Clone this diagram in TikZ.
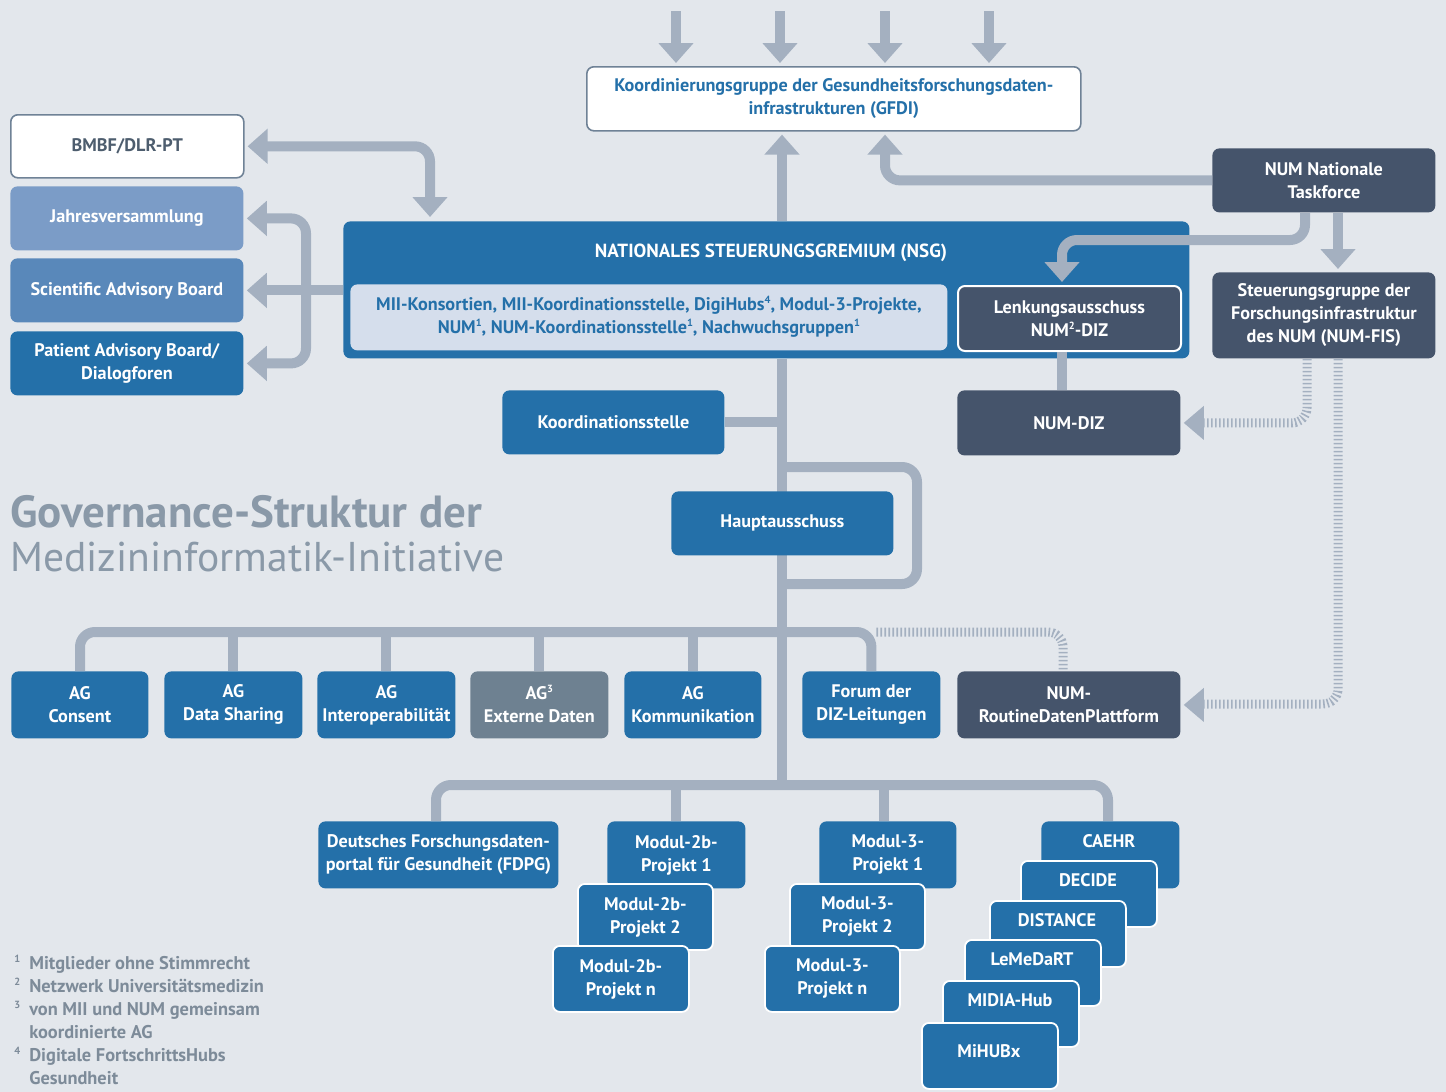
\documentclass[tikz,border=0pt]{standalone}
\usepackage{fontspec}
\setmainfont{PT Sans}
\newfontfamily\din[BoldFont={PT Sans Bold}]{PT Sans}
\usetikzlibrary{arrows.meta,calc}
\definecolor{bg}{HTML}{E3E7EC}
\definecolor{conncol}{HTML}{A4B0C0}
\definecolor{mblue}{HTML}{2470A9}
\definecolor{dslate}{HTML}{45546B}
\definecolor{jvblue}{HTML}{7B9CC7}
\definecolor{sabblue}{HTML}{5988BA}
\definecolor{aggray}{HTML}{6E8191}
\definecolor{panel}{HTML}{D5DEEC}
\definecolor{bordgray}{HTML}{6F8296}
\definecolor{bmbftext}{HTML}{4D5D6E}
\definecolor{titlegray}{HTML}{8A99A8}
\definecolor{fngray}{HTML}{7D8B99}
\newcommand\bx[7]{\node[#2, anchor=north west, minimum width={(#5-#3)*0.5pt}, minimum height={(#6-#4)*0.5pt}] (#1) at (#3,#4) {#7};}
\newcommand\supnum[1]{\raisebox{0.38em}[0pt][0pt]{\fontsize{5.2}{6}\selectfont #1}}
\begin{document}
\begin{tikzpicture}[x=0.5pt,y=-0.5pt,
  box/.style={rounded corners=3.5pt, inner sep=0pt, align=center, text=white,
    font=\din\bfseries\fontsize{9.1}{11.5}\selectfont},
  bluebox/.style={box, fill=mblue},
  darkbox/.style={box, fill=dslate},
  stackbox/.style={box, fill=mblue, draw=white, line width=0.9pt},
  whitebox/.style={box, fill=white, draw=bordgray, line width=0.8pt},
  lbl/.style={inner sep=0pt, align=center, text=white, font=\din\bfseries\fontsize{9.1}{11.5}\selectfont},
  conn/.style={draw=conncol, line width=5pt},
  tip/.style={-{Triangle[width=17pt,length=10pt]}},
  dtip/.style={{Triangle[width=17pt,length=10pt]}-{Triangle[width=17pt,length=10pt]}},
  dotconn/.style={draw=conncol, line width=4.5pt, dash pattern=on 0.8pt off 1.2pt},
  rc/.style={rounded corners=7.5pt}
]
\fill[bg] (0,0) rectangle (1446,1092);

% helper coordinates
\coordinate (sp) at (782,0);
\coordinate (t1) at (676,11);
\coordinate (t2) at (780,11);
\coordinate (t3) at (885,11);
\coordinate (t4) at (989,11);
\coordinate (xb) at (430,0);
\coordinate (xl) at (306,0);
\coordinate (xr1) at (1307,0);
\coordinate (xr2) at (1338,0);
\coordinate (xtf) at (1305,0);
\coordinate (xlk) at (1062,0);
\coordinate (ytf) at (0,240);
\coordinate (yloop1) at (0,467);
\coordinate (yloop2) at (0,584);
\coordinate (xloop) at (917,0);
\coordinate (ybus) at (0,632);
\coordinate (ybus2) at (0,785);
\coordinate (xnd) at (1063,0);

% ---------- nodes ----------
\bx{gfdi}{whitebox, text=mblue}{586}{66}{1080}{130}{Koordinierungsgruppe der Gesundheitsforschungsdaten-\\infrastrukturen (GFDI)}
\bx{bmbf}{whitebox, text=bmbftext}{10}{114}{243}{177}{BMBF/DLR-PT}
\bx{jv}{box, fill=jvblue}{10}{186}{243}{250}{Jahresversammlung}
\bx{sab}{box, fill=sabblue}{10}{258}{243}{322}{Scientific Advisory Board}
\bx{pab}{bluebox}{10}{331}{243}{395}{Patient Advisory Board/\\Dialogforen}

\bx{nsg}{bluebox}{343}{221}{1189}{358}{}
\node[lbl, font=\din\bfseries\fontsize{9.5}{11.5}\selectfont] (nsgT) at (771,253) {NATIONALES STEUERUNGSGREMIUM (NSG)};
\bx{pnl}{box, fill=panel, text=mblue}{350}{284}{947}{350}{MII-Konsortien, MII-Koordinationsstelle, DigiHubs\supnum{4}, Modul-3-Projekte,\\NUM\supnum{1}, NUM-Koordinationsstelle\supnum{1}, Nachwuchsgruppen\supnum{1}}
\bx{lenk}{darkbox, draw=white, line width=1pt}{957}{285}{1180}{350}{Lenkungsausschuss\\NUM\supnum{2}-DIZ}

\bx{tf}{darkbox}{1212}{148}{1435}{212}{NUM Nationale\\Taskforce}
\bx{sg}{darkbox}{1212}{272}{1435}{358}{Steuerungsgruppe der\\Forschungsinfrastruktur\\des NUM (NUM-FIS)}
\bx{numdiz}{darkbox}{957}{390}{1180}{455}{NUM-DIZ}

% ---------- connectors ----------
\foreach \t in {t1,t2,t3,t4}{
  \draw[conn, tip, shorten >=1.5pt] (\t) -- (\t |- gfdi.north);
}
\draw[conn, tip, shorten >=1.5pt] (nsg.north -| sp) -- (gfdi.south -| sp);
\draw[conn, tip, rc, shorten >=1.5pt] (tf.west) -| (gfdi.south -| t3);
\draw[conn, dtip, rc, shorten <=1.5pt, shorten >=2pt] (bmbf.east) -| (nsg.north -| xb);
\draw[conn, dtip, rc, shorten <=1.5pt, shorten >=1.5pt] (jv.east) -| (xl |- sab.east) |- (pab.east);
\draw[conn, tip, shorten >=1.5pt] (nsg.west |- sab.east) -- (sab.east);
\draw[conn, tip, rc, shorten >=1.5pt] (tf.south -| xtf) |- (xlk |- ytf) -- (lenk.north -| xlk);
\draw[conn, tip, shorten >=1.5pt] (tf.south -| xr2) -- (sg.north -| xr2);
\draw[conn] (lenk.south -| xlk) -- (numdiz.north -| xlk);
\draw[dotconn, rc, shorten >=10pt] (sg.south -| xr1) |- (numdiz.east);
\fill[conncol] ($(numdiz.east)+(3,0)$) -- ++(20,-17) -- ++(0,34) -- cycle;
\draw[dotconn, rc, shorten >=10pt] (sg.south -| xr2) |- (numdiz.east |- 0,704);

% spine
\draw[conn] (nsg.south -| sp) -- (sp |- ybus2);
\bx{ks}{bluebox}{502}{390}{724}{454}{Koordinationsstelle}
\draw[conn] (ks.east) -- (ks.east -| sp);
\draw[conn, rc] (sp |- yloop1) -| (xloop |- yloop2) -- (sp |- yloop2);
\bx{ha}{bluebox}{671}{491}{893}{555}{Hauptausschuss}

% title
\node[anchor=base west, inner sep=0pt, text=titlegray, font=\din\bfseries\fontsize{22.5}{26}\selectfont] (title1) at (10,527) {Governance-Struktur der};
\node[anchor=base west, inner sep=0pt, text=titlegray, font=\din\fontsize{20.8}{26}\selectfont] (title2) at (10,571) {Medizininformatik-Initiative};

% AG row
\bx{agc}{bluebox}{11}{671}{148}{738}{AG\\Consent}
\bx{ags}{bluebox}{164}{671}{302}{738}{AG\\Data Sharing}
\bx{agi}{bluebox}{317}{671}{455}{738}{AG\\Interoperabilität}
\bx{age}{box, fill=aggray}{470}{671}{608}{738}{AG\supnum{3}\\Externe Daten}
\bx{agk}{bluebox}{624}{671}{761}{738}{AG\\Kommunikation}
\bx{fdiz}{bluebox}{802}{671}{940}{738}{Forum der\\DIZ-Leitungen}
\bx{ndp}{darkbox}{957}{671}{1180}{738}{NUM-\\RoutineDatenPlattform}
\fill[conncol] ($(ndp.east)+(3,0)$) -- ++(20,-17) -- ++(0,34) -- cycle;

\draw[conn, rc] (agc.north -| 80,0) |- (fdiz.north |- ybus) -- (fdiz.north);
\draw[dotconn, rc] ($(fdiz.north |- ybus)+(5,0)$) -| (ndp.north -| xnd);
\foreach \n in {ags,agi,age,agk}{
  \draw[conn] (\n.north) -- (\n.north |- ybus);
}

% bottom row
\bx{fdpg}{bluebox}{318}{821}{558}{888}{Deutsches Forschungsdaten-\\portal für Gesundheit (FDPG)}
\draw[conn, rc] (fdpg.north -| 436,0) |- (ybus2 -| 1108,0) -- (1108,821);
\draw[conn] (676,785) -- (676,821);
\draw[conn] (884,785) -- (884,821);

\bx{mzA}{bluebox}{607}{821}{745}{888}{Modul-2b-\\Projekt 1}
\bx{mzB}{stackbox}{577}{883}{712}{949}{Modul-2b-\\Projekt 2}
\bx{mzN}{stackbox}{552}{945}{688}{1011}{Modul-2b-\\Projekt n}
\bx{mdA}{bluebox}{819}{821}{956}{888}{Modul-3-\\Projekt 1}
\bx{mdB}{stackbox}{789}{883}{924}{949}{Modul-3-\\Projekt 2}
\bx{mdN}{stackbox}{764}{945}{899}{1011}{Modul-3-\\Projekt n}

\bx{caehr}{bluebox}{1041}{821}{1179}{888}{}
\node[lbl] (caehrT) at (1109,841) {CAEHR};
\bx{decide}{stackbox}{1020}{860}{1156}{926}{}
\node[lbl] (decideT) at (1088,880) {DECIDE};
\bx{dist}{stackbox}{989}{900}{1125}{966}{}
\node[lbl] (distT) at (1057,920) {DISTANCE};
\bx{lemed}{stackbox}{964}{939}{1100}{1005}{}
\node[lbl] (lemedT) at (1032,959) {LeMeDaRT};
\bx{midia}{stackbox}{942}{980}{1078}{1046}{}
\node[lbl] (midiaT) at (1010,1000) {MIDIA-Hub};
\bx{mihub}{stackbox}{921}{1022}{1057}{1088}{}
\node[lbl] (mihubT) at (989,1051) {MiHUBx};

% footnotes
\node[anchor=north west, inner sep=0pt, text=fngray, font=\din\bfseries\fontsize{9.2}{11.5}\selectfont] (fn) at (14,953)
{\begin{tabular}{@{}l@{\hspace{4.5pt}}l@{}}
\supnum{1} & Mitglieder ohne Stimmrecht\\
\supnum{2} & Netzwerk Universitätsmedizin\\
\supnum{3} & von MII und NUM gemeinsam\\
 & koordinierte AG\\
\supnum{4} & Digitale FortschrittsHubs\\
 & Gesundheit
\end{tabular}};
\end{tikzpicture}
\end{document}
